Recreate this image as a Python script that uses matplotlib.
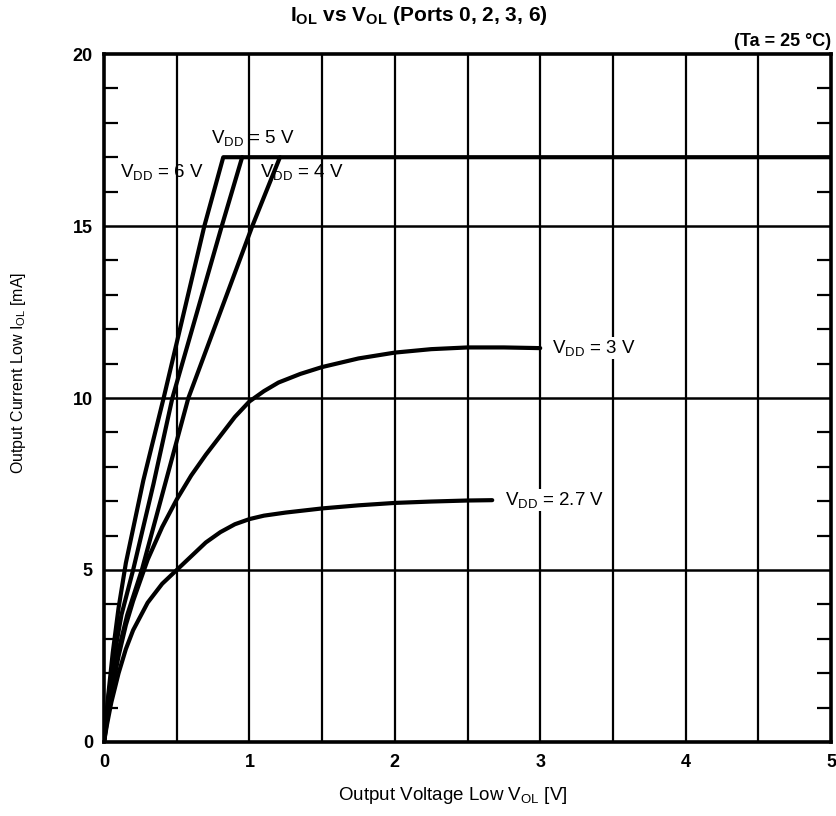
import matplotlib
matplotlib.use("Agg")
import matplotlib.pyplot as plt

plt.rcParams['font.family'] = ['Liberation Sans', 'DejaVu Sans']
plt.rcParams['mathtext.fontset'] = 'custom'
plt.rcParams['mathtext.rm'] = 'Liberation Sans'
plt.rcParams['mathtext.it'] = 'Liberation Sans'
plt.rcParams['mathtext.bf'] = 'Liberation Sans:bold'

# curves (V_OL in V, I_OL in mA)
v_6v = [0, 0.01, 0.03, 0.06, 0.1, 0.15, 0.27, 0.41, 0.55, 0.69, 0.82, 5.0]
i_6v = [0, 0.5, 1.4, 2.6, 3.9, 5.2, 7.6, 10.0, 12.5, 15.0, 17.0, 17.0]

v_5v = [0, 0.01, 0.03, 0.07, 0.12, 0.2, 0.34, 0.47, 0.64, 0.81, 0.95]
i_5v = [0, 0.45, 1.3, 2.5, 3.7, 5.0, 7.5, 10.0, 12.5, 15.0, 17.0]

v_4v = [0, 0.01, 0.04, 0.09, 0.16, 0.26, 0.42, 0.58, 0.80, 1.02, 1.21]
i_4v = [0, 0.4, 1.3, 2.5, 3.7, 5.0, 7.5, 10.0, 12.5, 15.0, 17.0]

v_3v = [0, 0.02, 0.05, 0.1, 0.15, 0.2, 0.3, 0.4, 0.5, 0.6, 0.7, 0.8, 0.9,
        1.0, 1.1, 1.2, 1.35, 1.5, 1.75, 2.0, 2.25, 2.5, 2.75, 3.0]
i_3v = [0, 0.6, 1.4, 2.5, 3.4, 4.1, 5.3, 6.25, 7.05, 7.75, 8.35, 8.9, 9.45,
        9.9, 10.2, 10.45, 10.7, 10.9, 11.15, 11.32, 11.42, 11.47, 11.47, 11.45]

v_27v = [0, 0.02, 0.05, 0.1, 0.15, 0.2, 0.3, 0.4, 0.5, 0.6, 0.7, 0.8, 0.9,
         1.0, 1.1, 1.25, 1.5, 1.75, 2.0, 2.25, 2.5, 2.67]
i_27v = [0, 0.5, 1.15, 2.0, 2.7, 3.25, 4.05, 4.6, 5.0, 5.4, 5.8, 6.1, 6.33,
         6.48, 6.58, 6.67, 6.79, 6.88, 6.95, 6.99, 7.02, 7.03]

curves = [(v_6v, i_6v), (v_5v, i_5v), (v_4v, i_4v), (v_3v, i_3v), (v_27v, i_27v)]

fig = plt.figure(figsize=(8.37, 8.16), dpi=100)
ax = fig.add_axes([0.1243, 0.0907, 0.8685, 0.8431])

# grid
for x in [0.5, 1, 1.5, 2, 2.5, 3, 3.5, 4, 4.5]:
    ax.axvline(x, color='black', lw=1.6, zorder=1)
for y in [5, 10, 15]:
    ax.axhline(y, color='black', lw=1.8, zorder=1)

for v, i in curves:
    ax.plot(v, i, color='black', lw=3.0, solid_capstyle='round',
            solid_joinstyle='round', zorder=3)

ax.set_xlim(0, 5)
ax.set_ylim(0, 20)
ax.set_xticks([0, 1, 2, 3, 4, 5])
ax.set_yticks([0, 5, 10, 15, 20])
ax.set_yticks(range(0, 21), minor=True)
ax.tick_params(axis='x', length=0, pad=9, labelsize=13)
ax.tick_params(axis='y', which='major', length=0, pad=8, labelsize=13)
ax.tick_params(axis='y', which='minor', direction='in', length=10, width=1.6,
               left=True, right=True)
for lab in ax.get_xticklabels() + ax.get_yticklabels():
    lab.set_fontweight('bold')
for s in ax.spines.values():
    s.set_linewidth(2.6)

ax.set_xlabel(r'Output Voltage Low V$_{\mathrm{OL}}$ [V]', fontsize=13.5)
ax.xaxis.set_label_coords(0.48, -0.062)
ax.set_ylabel(r'Output Current Low I$_{\mathrm{OL}}$ [mA]', fontsize=11.5)
ax.yaxis.set_label_coords(-0.104, 0.536)

fig.text(0.5, 0.981, r'I$_{\mathbf{OL}}$ vs V$_{\mathbf{OL}}$ (Ports 0, 2, 3, 6)',
         ha='center', va='center', fontsize=15, fontweight='bold')
ax.text(1.0, 1.006, '(Ta = 25 °C)', transform=ax.transAxes, ha='right',
        va='bottom', fontsize=13, fontweight='bold')

lbl = dict(fontsize=13.5, va='center', zorder=4)
ax.text(0.40, 16.57, r'V$_{\mathrm{DD}}$ = 6 V', ha='center', **lbl)
ax.text(1.02, 17.55, r'V$_{\mathrm{DD}}$ = 5 V', ha='center', **lbl)
ax.text(1.07, 16.57, r'V$_{\mathrm{DD}}$ = 4 V', ha='left', **lbl)
ax.text(3.08, 11.45, r'V$_{\mathrm{DD}}$ = 3 V', ha='left',
        bbox=dict(facecolor='white', edgecolor='none', pad=1), **lbl)
ax.text(2.76, 7.03, r'V$_{\mathrm{DD}}$ = 2.7 V', ha='left',
        bbox=dict(facecolor='white', edgecolor='none', pad=1), **lbl)

fig.savefig('out.png', dpi=100)
